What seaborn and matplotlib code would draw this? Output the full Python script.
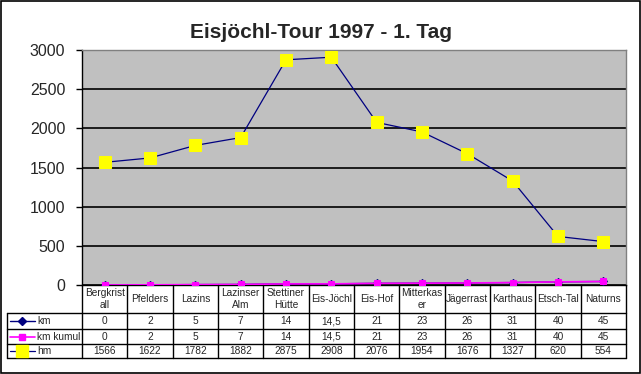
import numpy as np
import seaborn as sns
import matplotlib.pyplot as plt
from matplotlib.patches import Rectangle

# data
orte = ["Bergkrist\nall", "Pfelders", "Lazins", "Lazinser\nAlm", "Stettiner\nHütte",
        "Eis-Jöchl", "Eis-Hof", "Mitterkas\ner", "Jägerrast", "Karthaus",
        "Etsch-Tal", "Naturns"]
km = [0, 2, 5, 7, 14, 14.5, 21, 23, 26, 31, 40, 45]
km_kumul = [0, 2, 5, 7, 14, 14.5, 21, 23, 26, 31, 40, 45]
hm = [1566, 1622, 1782, 1882, 2875, 2908, 2076, 1954, 1676, 1327, 620, 554]
y_ticks = [0, 500, 1000, 1500, 2000, 2500, 3000]

sns.set_theme(style="white")
plt.rcParams['font.family'] = ['Liberation Sans', 'DejaVu Sans']

W, H = 641, 374
fig = plt.figure(figsize=(W / 100, H / 100), dpi=100)
fig.patch.set_facecolor("white")

# plot area in pixel coords
L, R, T, B = 82, 626, 50, 285
ax = fig.add_axes([L / W, 1 - B / H, (R - L) / W, (B - T) / H])
ax.set_facecolor("#C0C0C0")
pos = np.arange(len(orte))

sns.lineplot(x=pos, y=km, ax=ax, color="#000080", lw=1, marker="D",
             markersize=4, markeredgecolor="#000080", zorder=3)
sns.lineplot(x=pos, y=km_kumul, ax=ax, color="#FF00FF", lw=1.2, marker="s",
             markersize=5, markerfacecolor="#FF00FF", markeredgecolor="#FF00FF", zorder=4)
sns.lineplot(x=pos, y=hm, ax=ax, color="#000080", lw=0.9, marker="s",
             markersize=9, markerfacecolor="#FFFF00", markeredgecolor="#FFFF00", zorder=5)

ax.set_xlim(-0.5, len(orte) - 0.5)
ax.set_ylim(0, 3000)
ax.set_yticks(y_ticks)
ax.set_yticklabels([str(t) for t in y_ticks], fontsize=11.5)
ax.yaxis.grid(True, color="black", lw=1.2)
ax.set_axisbelow(True)
ax.set_xticks([])
ax.tick_params(axis="y", left=True, length=4, width=1, color="black", pad=8)
for s in ["left", "bottom"]:
    ax.spines[s].set_color("black")
    ax.spines[s].set_linewidth(1)
for s in ["top", "right"]:
    ax.spines[s].set_color("#808080")
    ax.spines[s].set_linewidth(1)
ax.set_xlabel("")
ax.set_ylabel("")

# overlay in pixel coords for title, table and frame
ov = fig.add_axes([0, 0, 1, 1], zorder=10)
ov.set_xlim(0, W)
ov.set_ylim(H, 0)
ov.axis("off")
ov.patch.set_alpha(0)

ov.add_patch(Rectangle((0.5, 0.5), W - 2, H - 2, fill=False, ec="black", lw=1.2))
ov.text(W / 2, 38, "Eisjöchl-Tour 1997 - 1. Tag", ha="center", va="baseline",
        fontsize=15, fontweight="bold")

cw = (R - L) / len(orte)
rows = [313, 329, 344, 358]
fs = 7.3
for k in range(len(orte) + 1):
    x = L + k * cw
    ov.plot([x, x], [B, rows[-1]], color="black", lw=1)
ov.plot([7, 7], [rows[0], rows[-1]], color="black", lw=1)
for y in rows:
    ov.plot([7, R], [y, y], color="black", lw=1)

for i, name in enumerate(orte):
    ov.text(L + (i + 0.5) * cw, (B + rows[0]) / 2, name, ha="center", va="center",
            fontsize=fs, linespacing=1.2)

def fmt(v):
    return str(v).replace(".", ",") if v != int(v) else str(int(v))

series = [("km", km), ("km kumul", km_kumul), ("hm", hm)]
for r, (lab, vals) in enumerate(series):
    yc = (rows[r] + rows[r + 1]) / 2
    for i, v in enumerate(vals):
        ov.text(L + (i + 0.5) * cw, yc, fmt(v), ha="center", va="center", fontsize=fs)
    ov.text(37, yc, lab, ha="left", va="center", fontsize=fs)

# legend keys
yk = [(rows[r] + rows[r + 1]) / 2 for r in range(3)]
ov.plot([10, 35], [yk[0], yk[0]], color="#000080", lw=1)
ov.plot([22], [yk[0]], marker="D", color="#000080", markersize=4)
ov.plot([10, 35], [yk[1], yk[1]], color="#FF00FF", lw=1.2)
ov.plot([22], [yk[1]], marker="s", color="#FF00FF", markersize=5)
ov.plot([10, 35], [yk[2], yk[2]], color="#000080", lw=0.9)
ov.plot([22], [yk[2]], marker="s", color="#FFFF00", markersize=8)

fig.savefig("out.png", dpi=100)
